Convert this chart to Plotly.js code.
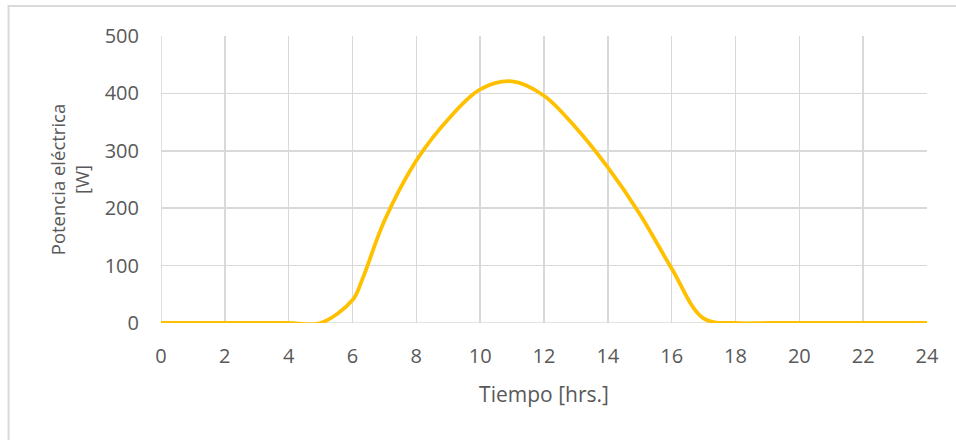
<!DOCTYPE html>
<html>
<head>
<meta charset="utf-8">
<script src="https://cdn.plot.ly/plotly-3.0.1.min.js"></script>
<style>
  html, body { margin: 0; padding: 0; background: #ffffff; }
  #chart { width: 956px; height: 440px; }
</style>
</head>
<body>
<div id="chart"></div>
<script>
// Hourly electric power output over one day
const hours = [0, 1, 2, 3, 4, 5, 6, 6.3, 7, 8, 9, 10, 11, 12, 13, 14, 15, 16, 17, 18, 19, 20, 21, 22, 23, 24];
const power = [0, 0, 0, 0, 0, 0, 40, 75, 178, 283, 355, 407, 421, 396, 340, 271, 190, 95, 8, 0, 0, 0, 0, 0, 0, 0];

const xTicks = [0, 2, 4, 6, 8, 10, 12, 14, 16, 18, 20, 22, 24];
const yTicks = [0, 100, 200, 300, 400, 500];

const gridColor = '#d9d9d9';
const textColor = '#595959';
const font = '"Open Sans", "Liberation Sans", sans-serif';

const trace = {
  x: hours,
  y: power,
  type: 'scatter',
  mode: 'lines',
  line: { color: '#FFC000', width: 3.8, shape: 'spline', smoothing: 1 },
  hoverinfo: 'x+y'
};

const layout = {
  width: 956,
  height: 440,
  margin: { l: 161, r: 29, t: 36, b: 117 },
  paper_bgcolor: '#ffffff',
  plot_bgcolor: '#ffffff',
  showlegend: false,
  font: { family: font, color: textColor, size: 20 },
  xaxis: {
    range: [0, 24],
    tickvals: xTicks,
    ticktext: xTicks.map(String),
    showgrid: true,
    gridcolor: gridColor,
    gridwidth: 1.6,
    zeroline: false,
    showline: false,
    ticks: 'outside',
    ticklen: 15,
    tickcolor: 'rgba(0,0,0,0)',
    tickfont: { size: 20, color: textColor },
    title: { text: 'Tiempo [hrs.]', font: { size: 21, color: textColor }, standoff: 19 }
  },
  yaxis: {
    range: [0, 500],
    tickvals: yTicks,
    ticktext: yTicks.map(String),
    showgrid: true,
    gridcolor: gridColor,
    gridwidth: 1.6,
    zeroline: false,
    showline: false,
    ticks: 'outside',
    ticklen: 17,
    tickcolor: 'rgba(0,0,0,0)',
    tickfont: { size: 20, color: textColor },
    title: { text: 'Potencia eléctrica<br>[W]', font: { size: 18.5, color: textColor }, standoff: 10 }
  },
  shapes: [
    // outer chart frame
    {
      type: 'rect', xref: 'paper', yref: 'paper',
      x0: -0.199, x1: 1.05, y0: -0.45, y1: 1.1045,
      line: { color: gridColor, width: 2 }, fillcolor: 'rgba(0,0,0,0)', layer: 'below'
    },
    // vertical grid line at x = 0
    {
      type: 'line', xref: 'x', yref: 'paper', x0: 0, x1: 0, y0: 0, y1: 1,
      line: { color: gridColor, width: 1.6 }, layer: 'below'
    },
    // baseline at y = 0
    {
      type: 'line', xref: 'paper', yref: 'y', x0: 0, x1: 1, y0: 0, y1: 0,
      line: { color: gridColor, width: 1.6 }, layer: 'below'
    }
  ]
};

Plotly.newPlot('chart', [trace], layout, { displayModeBar: false, staticPlot: true });
</script>
</body>
</html>
